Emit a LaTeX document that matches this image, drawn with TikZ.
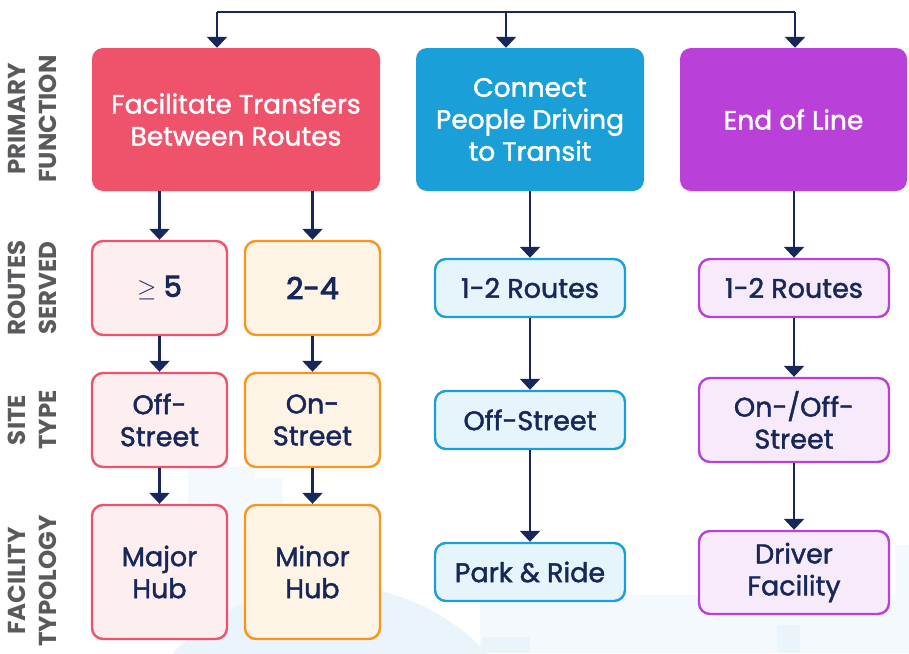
\documentclass[tikz,border=0pt]{standalone}
\usepackage{fontspec}
\setmainfont{Poppins}
\newfontfamily\medfont{Poppins}[FakeBold=1.6]
\newfontfamily\semifont{Poppins}[FakeBold=3]
\usetikzlibrary{arrows.meta}
\usetikzlibrary{backgrounds}

\definecolor{navy}{HTML}{17275A}
\definecolor{labelgray}{HTML}{5A5A5E}
\definecolor{redmain}{HTML}{EF536B}
\definecolor{redlight}{HTML}{FDEEF0}
\definecolor{orangemain}{HTML}{F7961E}
\definecolor{orangelight}{HTML}{FEF4E6}
\definecolor{bluemain}{HTML}{1A9FD8}
\definecolor{bluelight}{HTML}{E6F4FB}
\definecolor{purplemain}{HTML}{B940D9}
\definecolor{purplelight}{HTML}{F7EAFA}
\definecolor{skyfaint}{HTML}{F4F9FD}
\definecolor{skyhill}{HTML}{EAF4FB}

\begin{document}
\begin{tikzpicture}[
            x=1pt, y=-1pt,
            flow/.style={color=navy, line width=2.6pt, -{Triangle[width=20pt, length=11pt]}},
            link/.style={color=navy, line width=2.6pt},
            funcbox/.style={rounded corners=11pt, align=center, text=white,
                font=\medfont\fontsize{26.5}{32}\selectfont, minimum height=143pt},
            stepbox/.style={rounded corners=11pt, align=center, text=navy, line width=2.4pt,
                font=\medfont\fontsize{27}{32}\selectfont},
            rowlabel/.style={rotate=90, align=center, text=labelgray,
                font=\bfseries\fontsize{24.5}{31}\selectfont}
        ]
            \useasboundingbox (0,0) rectangle (909,653);

            % faint skyline behind
            \begin{scope}[on background layer]
                \fill[skyfaint] (188,467) rectangle (255,653);
                \fill[skyfaint] (222,478) rectangle (283,653);
                \fill[skyfaint] (480,595) rectangle (909,653);
                \fill[skyfaint] (895,545) rectangle (909,653);
                \fill[skyhill] (330,800) circle (215);
                \fill[skyhill] (482,637) rectangle (530,653);
                \fill[skyhill] (777,625) rectangle (800,653);
            \end{scope}

            % row labels
            \node[rowlabel] (lblfunc) at (32,119) {PRIMARY\\FUNCTION};
            \node[rowlabel] (lblroutes) at (32,288) {ROUTES\\SERVED};
            \node[rowlabel] (lblsite) at (32,420) {SITE\\TYPE};
            \node[rowlabel] (lbltypo) at (32,581) {FACILITY\\TYPOLOGY};

            % primary functions
            \node[funcbox, fill=redmain, minimum width=288pt] (transfer) at (236,119.5) {Facilitate Transfers\\Between Routes};
            \node[funcbox, fill=bluemain, minimum width=228pt] (driving) at (530,119.5) {Connect\\People Driving\\to Transit};
            \node[funcbox, fill=purplemain, minimum width=227pt] (endline) at (793.5,119.5) {End of Line};

            % transfers: two branches
            \node[stepbox, draw=redmain, fill=redlight, minimum width=135pt, minimum height=94pt] (many) at (159.5,288)
                {{\normalfont\fontsize{25}{32}\selectfont$\geq$} \semifont\fontsize{29}{32}\selectfont 5};
            \node[stepbox, draw=orangemain, fill=orangelight, minimum width=135pt, minimum height=94pt] (few) at (312.5,288)
                {\semifont\fontsize{30}{32}\selectfont 2-4};
            \node[stepbox, draw=redmain, fill=redlight, minimum width=135pt, minimum height=94pt] (offst) at (159.5,420) {Off-\\Street};
            \node[stepbox, draw=orangemain, fill=orangelight, minimum width=135pt, minimum height=94pt] (onst) at (312.5,420) {On-\\Street};
            \node[stepbox, draw=redmain, fill=redlight, minimum width=135pt, minimum height=134pt] (major) at (159.5,572) {Major\\Hub};
            \node[stepbox, draw=orangemain, fill=orangelight, minimum width=135pt, minimum height=134pt] (minor) at (312.5,572) {Minor\\Hub};

            % driving column
            \node[stepbox, draw=bluemain, fill=bluelight, minimum width=190pt, minimum height=58pt] (dr_routes) at (530,288) {1-2 Routes};
            \node[stepbox, draw=bluemain, fill=bluelight, minimum width=190pt, minimum height=58pt] (dr_site) at (530,420) {Off-Street};
            \node[stepbox, draw=bluemain, fill=bluelight, minimum width=190pt, minimum height=58pt] (parkride) at (530,572) {Park \& Ride};

            % end of line column
            \node[stepbox, draw=purplemain, fill=purplelight, minimum width=190pt, minimum height=58pt] (eol_routes) at (794,288) {1-2 Routes};
            \node[stepbox, draw=purplemain, fill=purplelight, minimum width=190pt, minimum height=84pt] (eol_site) at (794,420) {On-/Off-\\Street};
            \node[stepbox, draw=purplemain, fill=purplelight, minimum width=190pt, minimum height=83pt] (driverfac) at (794,572.5) {Driver\\Facility};

            % top distribution line
            \coordinate (topleft) at (217,12);
            \coordinate (topmid) at (506,12);
            \coordinate (topright) at (795,12);
            \draw[link] (topleft) -- (topright);
            \draw[flow] (topleft) -- (topleft |- transfer.north);
            \draw[flow] (topmid) -- (topmid |- driving.north);
            \draw[flow] (topright) -- (topright |- endline.north);

            % arrows down
            \draw[flow] (transfer.south -| many) -- (many);
            \draw[flow] (transfer.south -| few) -- (few);
            \draw[flow] (many) -- (offst);
            \draw[flow] (few) -- (onst);
            \draw[flow] (offst) -- (major);
            \draw[flow] (onst) -- (minor);
            \draw[flow] (driving) -- (dr_routes);
            \draw[flow] (dr_routes) -- (dr_site);
            \draw[flow] (dr_site) -- (parkride);
            \draw[flow] (endline.south -| eol_routes) -- (eol_routes);
            \draw[flow] (eol_routes) -- (eol_site);
            \draw[flow] (eol_site) -- (driverfac);

        \end{tikzpicture}
\end{document}
